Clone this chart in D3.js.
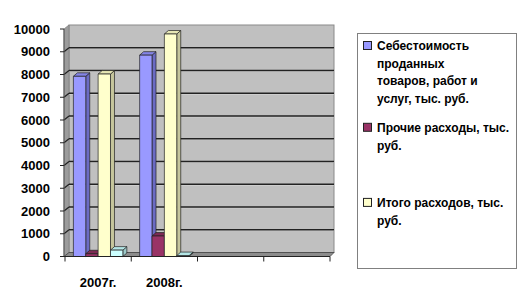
<!DOCTYPE html>
<html>
<head>
<meta charset="utf-8">
<script src="https://cdn.jsdelivr.net/npm/d3@7"></script>
<style>
  body { margin: 0; background: #fff; }
  text { font-family: "Liberation Sans", Arial, sans-serif; font-weight: bold; fill: #000; }
</style>
</head>
<body>
<div id="chart"></div>
<script>
// данные
const categories = ["2007г.", "2008г.", "", " "];
const seriesNames = [
  "Себестоимость проданных товаров, работ и услуг, тыс. руб.",
  "Прочие расходы, тыс. руб.",
  "",
  "Итого расходов, тыс. руб."
];
const costValues = [7920, 8850, 0, 0];
const otherValues = [120, 900, 0, 0];
const totalValues = [8020, 9780, 0, 0];
const extraValues = [280, 40, 0, 0];
const yTicks = [0, 1000, 2000, 3000, 4000, 5000, 6000, 7000, 8000, 9000, 10000];

// порядок столбцов в группе: синий, бордовый, жёлтый, голубой
const barSeries = [
  { key: "cost", values: costValues, front: "#9999ff", side: "#6b6bc4", top: "#8484e6" },
  { key: "other", values: otherValues, front: "#993366", side: "#6a2347", top: "#7d2a53" },
  { key: "total", values: totalValues, front: "#ffffcc", side: "#c5c59c", top: "#e6e6b4" },
  { key: "extra", values: extraValues, front: "#ccffff", side: "#9cc8c8", top: "#b4e6e6" }
];
const legendItems = [
  { lines: ["Себестоимость", "проданных", "товаров, работ и", "услуг, тыс. руб."], color: "#9999ff" },
  { lines: ["Прочие расходы, тыс.", "руб."], color: "#993366" },
  { lines: [""], color: null },
  { lines: ["Итого расходов, тыс.", "руб."], color: "#ffffcc" }
];

const width = 525, height = 303;
const svg = d3.select("#chart").append("svg").attr("width", width).attr("height", height);

const x0 = 64, x1 = 330;        // передний край по оси X
const wdx = 5, wdy = -4;        // глубина стенок
const bdx = 4, bdy = -3.5;      // глубина столбцов

const y = d3.scaleLinear().domain([0, 10000]).range([256.5, 29]);
const x = d3.scaleBand().domain(categories).range([x0 + 1, x1]);
const xs = d3.scaleBand().domain(barSeries.map(d => d.key)).range([0, x.bandwidth()])
  .paddingInner(0).paddingOuter(0.68);

// задняя стенка
svg.append("rect")
  .attr("x", x0 + wdx).attr("y", y(10000) + wdy)
  .attr("width", x1 + 4 - (x0 + wdx)).attr("height", y(0) - y(10000))
  .attr("fill", "#c0c0c0").attr("stroke", "#8a8a8a").attr("stroke-width", 1);

// левая стенка
svg.append("path")
  .attr("d", `M${x0},${y(10000)} L${x0 + wdx},${y(10000) + wdy} L${x0 + wdx},${y(0) + wdy} L${x0},${y(0)} Z`)
  .attr("fill", "#9c9c9c").attr("stroke", "#808080").attr("stroke-width", 0.8);

// пол
svg.append("path")
  .attr("d", `M${x0},${y(0)} L${x0 + wdx},${y(0) + wdy} L${x1 + 4},${y(0) + wdy} L${x1},${y(0)} Z`)
  .attr("fill", "#8c8c8c").attr("stroke", "#444").attr("stroke-width", 0.8);

// линии сетки
const grid = svg.append("g");
yTicks.filter(t => t > 0 && t < 10000).forEach(t => {
  grid.append("line")
    .attr("x1", x0 + wdx).attr("x2", x1 + 4)
    .attr("y1", y(t) + wdy + 0.8).attr("y2", y(t) + wdy + 0.8)
    .attr("stroke", "#e0e0e0").attr("stroke-width", 0.8);
  grid.append("line")
    .attr("x1", x0 + wdx).attr("x2", x1 + 4)
    .attr("y1", y(t) + wdy).attr("y2", y(t) + wdy)
    .attr("stroke", "#222").attr("stroke-width", 1.5);
  grid.append("line")
    .attr("x1", x0).attr("x2", x0 + wdx)
    .attr("y1", y(t)).attr("y2", y(t) + wdy)
    .attr("stroke", "#222").attr("stroke-width", 1.3);
});

// столбцы
const bars = svg.append("g");
categories.forEach((c, ci) => {
  barSeries.forEach(s => {
    const v = s.values[ci];
    if (!v) return;
    const bx = x(c) + xs(s.key), bw = xs.bandwidth();
    const yt = y(v), yb = y(0);
    const g = bars.append("g").attr("stroke", "#222").attr("stroke-width", 0.7).attr("stroke-linejoin", "round");
    g.append("path")
      .attr("d", `M${bx + bw},${yt} L${bx + bw + bdx},${yt + bdy} L${bx + bw + bdx},${yb + bdy} L${bx + bw},${yb} Z`)
      .attr("fill", s.side);
    g.append("path")
      .attr("d", `M${bx},${yt} L${bx + bdx},${yt + bdy} L${bx + bw + bdx},${yt + bdy} L${bx + bw},${yt} Z`)
      .attr("fill", s.top);
    g.append("rect").attr("x", bx).attr("y", yt).attr("width", bw).attr("height", yb - yt)
      .attr("fill", s.front);
  });
});

// ось Y
const yAxis = svg.append("g");
yAxis.append("line").attr("x1", x0).attr("x2", x0).attr("y1", y(10000)).attr("y2", y(0))
  .attr("stroke", "#555").attr("stroke-width", 1);
yTicks.forEach(t => {
  yAxis.append("line").attr("x1", x0 - 4).attr("x2", x0).attr("y1", y(t)).attr("y2", y(t))
    .attr("stroke", "#222").attr("stroke-width", 1);
  yAxis.append("text").attr("x", x0 - 14).attr("y", y(t) + 4.5)
    .attr("text-anchor", "end").style("font-size", "13px").text(t);
});

// ось X
const xAxis = svg.append("g");
xAxis.append("line").attr("x1", x0).attr("x2", x1).attr("y1", y(0)).attr("y2", y(0))
  .attr("stroke", "#222").attr("stroke-width", 1.2);
categories.forEach((c, i) => {
  const tx = x(c);
  xAxis.append("line").attr("x1", tx).attr("x2", tx).attr("y1", y(0)).attr("y2", y(0) + 5)
    .attr("stroke", "#222").attr("stroke-width", 1);
  xAxis.append("text").attr("x", tx + x.bandwidth() / 2).attr("y", 287)
    .attr("text-anchor", "middle").style("font-size", "13px").text(c.trim());
});
xAxis.append("line").attr("x1", x1).attr("x2", x1).attr("y1", y(0)).attr("y2", y(0) + 5)
  .attr("stroke", "#222").attr("stroke-width", 1);

// легенда
const lg = svg.append("g");
lg.append("rect").attr("x", 357.5).attr("y", 33.5).attr("width", 159).attr("height", 235)
  .attr("fill", "#fff").attr("stroke", "#808080").attr("stroke-width", 1);
const lineH = 17.7, gap = 11;
let ly = 46;
legendItems.forEach(item => {
  if (item.color) {
    lg.append("rect").attr("x", 363.5).attr("y", ly - 4.5).attr("width", 8).attr("height", 8)
      .attr("fill", item.color).attr("stroke", "#222").attr("stroke-width", 1);
  }
  item.lines.forEach((ln, li) => {
    lg.append("text").attr("x", 377).attr("y", ly + li * lineH + 4)
      .style("font-size", "12px").text(ln);
  });
  ly += item.lines.length * lineH + gap;
});
</script>
</body>
</html>
